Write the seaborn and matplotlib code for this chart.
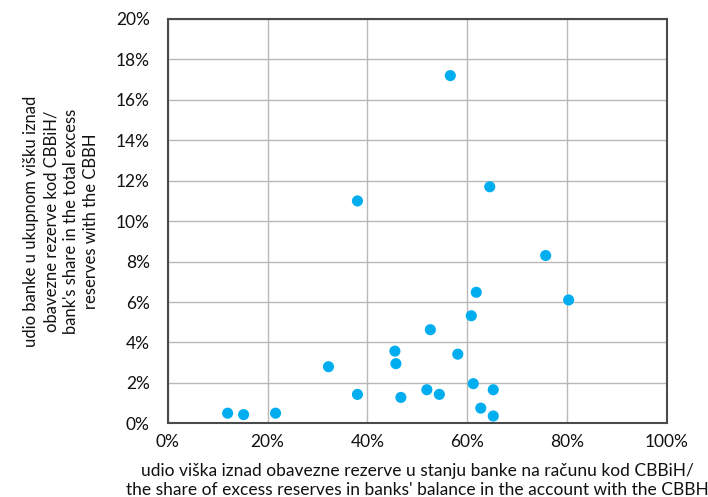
import matplotlib
matplotlib.use("Agg")
import matplotlib.pyplot as plt
import seaborn as sns
import pandas as pd
from matplotlib.ticker import PercentFormatter, MultipleLocator

# share of excess reserves in bank's balance (%)
excess_share = [56.6, 64.5, 38.0, 75.7, 80.3, 61.8, 60.8, 52.6, 45.5, 45.7,
                58.1, 32.2, 38.0, 46.7, 51.9, 54.4, 61.2, 65.2, 62.7, 65.2,
                12.0, 15.2, 21.6]
# bank's share in total excess reserves (%)
bank_share = [17.2, 11.7, 11.0, 8.3, 6.1, 6.48, 5.32, 4.63, 3.57, 2.95,
              3.42, 2.80, 1.43, 1.28, 1.66, 1.43, 1.96, 1.66, 0.75, 0.36,
              0.50, 0.43, 0.50]

x_label = ("udio viška iznad obavezne rezerve u stanju banke na računu kod CBBiH/\n"
           "the share of excess reserves in banks' balance in the account with the CBBH")
y_label = ("udio banke u ukupnom višku iznad\nobavezne rezerve kod CBBiH/\n"
           "bank's share in the total excess\nreserves with the CBBH")

df = pd.DataFrame({"x": excess_share, "y": bank_share})

sns.set_theme(style="white")
plt.rcParams["font.family"] = ["Lato", "DejaVu Sans"]

fig = plt.figure(figsize=(7.08, 4.97), dpi=100)
ax = fig.add_axes([0.2369, 0.1483, 0.9421 - 0.2369, 0.9618 - 0.1483])

sns.scatterplot(data=df, x="x", y="y", ax=ax, color="#00AEEF", s=64,
                edgecolor="none", zorder=3)

ax.set_xlim(0, 100)
ax.set_ylim(0, 20)
ax.xaxis.set_major_locator(MultipleLocator(20))
ax.yaxis.set_major_locator(MultipleLocator(2))
ax.xaxis.set_major_formatter(PercentFormatter(decimals=0))
ax.yaxis.set_major_formatter(PercentFormatter(decimals=0))
ax.grid(True, color="#b8b8b8", linewidth=1.0)
ax.set_axisbelow(True)
for sp in ax.spines.values():
    sp.set_visible(True)
    sp.set_color("#4a4a4a")
    sp.set_linewidth(1.5)
ax.tick_params(axis="both", length=0, labelsize=12.5, colors="#111111")
ax.tick_params(axis="y", pad=13)
ax.tick_params(axis="x", pad=8)

ax.set_xlabel(x_label, fontsize=12.5, color="#111111", linespacing=1.22, labelpad=9)
ax.set_ylabel(y_label, fontsize=12, color="#111111", linespacing=1.3, labelpad=12)

fig.savefig("out.png", dpi=100)
